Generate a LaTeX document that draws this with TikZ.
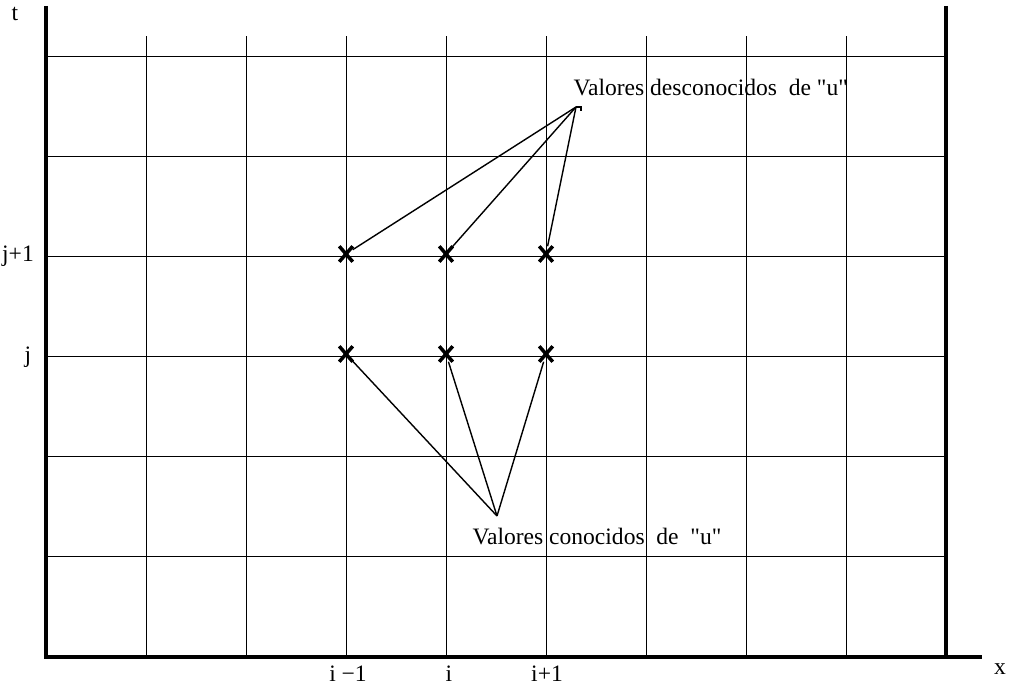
\documentclass[tikz,border=0pt]{standalone}
\usepackage{fontspec}
\setmainfont{Liberation Serif}[Ligatures=TeXOff]
\usetikzlibrary{shapes.misc}
\tikzset{
  axis line/.style={line width=1.1pt},
  grid line/.style={line width=0.28pt},
  mark node/.style={cross out, draw, line width=1pt, minimum width=0.1cm,
    minimum height=0.12cm, inner sep=0pt},
  leader/.style={line width=0.4pt},
  label text/.style={font=\fontsize{6.7}{7}\selectfont, inner sep=0pt},
}

\begin{document}
\begin{tikzpicture}[x=1cm, y=-1cm]
  \useasboundingbox (0,0) rectangle (10.1,6.9);

  % mesh
  \foreach \i in {1,...,8}
    \draw[grid line] (0.46+\i,0.36) -- (0.46+\i,6.57);
  \foreach \j in {0,...,5}
    \draw[grid line] (0.46,0.56+\j) -- (9.46,0.56+\j);

  % axes
  \draw[axis line] (0.46,0.06) -- (0.46,6.57) -- (9.82,6.57);
  \draw[axis line] (9.46,0.06) -- (9.46,6.57);

  \node[label text] (tlab) at (0.15,0.14) {t};
  \node[label text] (xlab) at (10.0,6.69) {x};
  \node[label text] (jplus) at (0.18,2.56) {j+1};
  \node[label text] (jlab) at (0.28,3.57) {j};
  \node[label text] (iminus) at (3.48,6.74) {i −1};
  \node[label text] (ilab) at (4.49,6.74) {i};
  \node[label text] (iplus) at (5.47,6.74) {i+1};

  % nodes of the stencil
  \foreach \n/\c in {m/3.46, c/4.46, p/5.46} {
    \node[mark node] (up\n) at (\c,2.54) {};
    \node[mark node] (uj\n) at (\c,3.54) {};
  }

  \node[label text, anchor=west] (desc) at (5.73,0.88)
    {Valores desconocidos\ \ de "u"};
  \coordinate (hu) at (5.76,1.07);
  \draw[leader] (hu) -- ++(0.05,0) -- ++(0,0.035);
  \draw[leader] (hu) -- (upm);
  \draw[leader] (hu) -- (upc);
  \draw[leader] (hu) -- (upp);

  \node[label text, anchor=west] (conoc) at (4.72,5.37)
    {Valores conocidos\ \ de\ \ "u"};
  \coordinate (hk) at (4.97,5.16);
  \draw[leader] (hk) -- (ujm);
  \draw[leader] (hk) -- (ujc);
  \draw[leader] (hk) -- (ujp);
\end{tikzpicture}
\end{document}
